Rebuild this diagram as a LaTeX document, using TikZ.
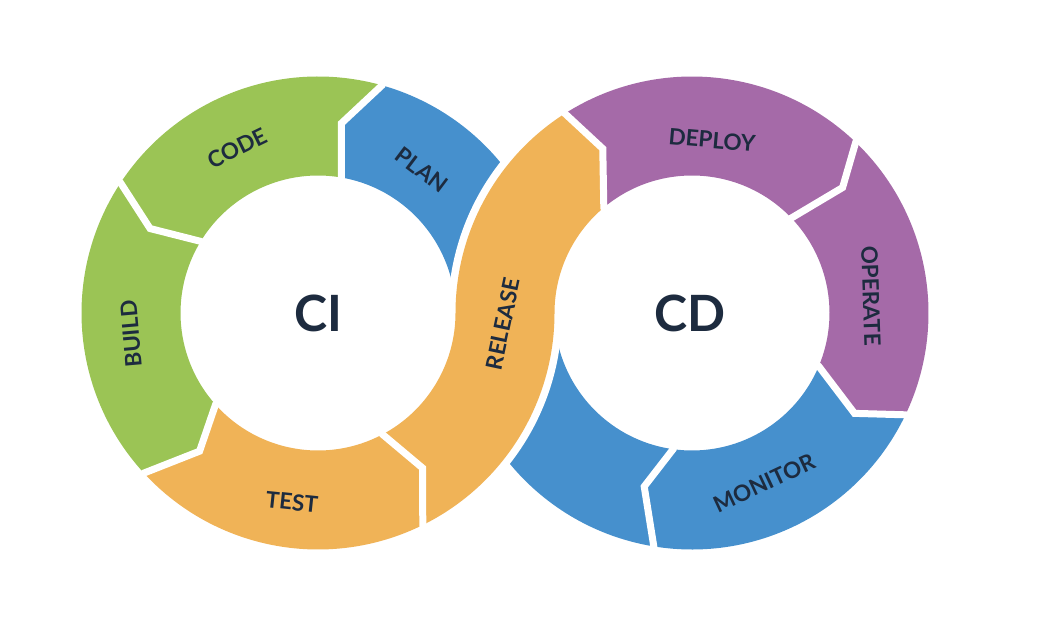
\documentclass[tikz,border=0pt]{standalone}
\usepackage{fontspec}
\setmainfont{Lato}
\definecolor{cgreen}{HTML}{9BC455}
\definecolor{cblue}{HTML}{4690CD}
\definecolor{corange}{HTML}{F0B357}
\definecolor{cpurple}{HTML}{A56AA8}
\definecolor{cnavy}{HTML}{1D2B3F}
\def\ri{137.5}
\def\ro{236.5}
% segment: center, colour, A-out, A-kink (a:r), A-in, B-out, B-kink (a:r), B-in
\newcommand{\ringseg}[8]{%
  \fill[#2] ([shift={(#1)}]#3:\ro) arc[start angle=#3, end angle=#6, radius=\ro]
    -- ([shift={(#1)}]#7) -- ([shift={(#1)}]#8:\ri)
    arc[start angle=#8, end angle=#5, radius=\ri]
    -- ([shift={(#1)}]#4) -- cycle;}
% boundary gap: center, out, kink (a:r), in
\newcommand{\ringgap}[4]{%
  \draw[gapline] ([shift={(#1)}]#2:\ro+4) -- ([shift={(#1)}]#2:\ro) -- ([shift={(#1)}]#3)
    -- ([shift={(#1)}]#4:\ri) -- ([shift={(#1)}]#4:\ri-4);}
\tikzset{
  gapline/.style={draw=white, line width=7, line join=miter},
  lbl/.style={text=cnavy, font=\fontsize{22.5}{22.5}\selectfont\bfseries, inner sep=0},
  big/.style={text=cnavy, font=\fontsize{50}{50}\selectfont\bfseries, inner sep=0}
}
\begin{document}
\begin{tikzpicture}[x=1pt, y=1pt]
\useasboundingbox (0,0) rectangle (1046,622);
\fill[white] (0,0) rectangle (1046,622);
\coordinate (L) at (318,309);
\coordinate (R) at (692,309);
% left ring
\ringseg{L}{cblue}{0}{0:187}{0}{74.3}{83:191}{80.2}
\ringseg{L}{cgreen}{74.3}{83:191}{80.2}{146.6}{153.3:188}{148.6}
\ringseg{L}{cgreen}{146.6}{153.3:188}{148.6}{222.6}{229.4:182}{221.8}
\ringseg{L}{corange}{222.6}{229.4:182}{221.8}{296.3}{304:187}{298}
% right ring
\ringseg{R}{cblue}{180}{180:187}{180}{260.7}{254.6:180}{262.1}
\ringseg{R}{cblue}{260.7}{254.6:180}{262.1}{334.5}{328.3:191}{337.2}
\ringseg{R}{cpurple}{-25.5}{328.3:191}{-22.8}{46.2}{39.8:196}{43.7}
\ringseg{R}{cpurple}{46.2}{39.8:196}{43.7}{122.5}{118.5:187}{129.9}
% cuts where the release band crosses
\draw[white, line width=15] ([shift={(R)}]185:\ro) arc[start angle=185, end angle=130, radius=\ro];
\draw[white, line width=15] ([shift={(L)}]5:\ro) arc[start angle=5, end angle=-50, radius=\ro];
% release band
\fill[corange] ([shift={(L)}]298:\ri) arc[start angle=298, end angle=360, radius=\ri]
  -- ([shift={(R)}]180:\ro) arc[start angle=180, end angle=122.5, radius=\ro]
  -- ([shift={(R)}]118.5:187) -- ([shift={(R)}]129.9:\ri)
  arc[start angle=129.9, end angle=180, radius=\ri]
  -- ([shift={(L)}]0:\ro) arc[start angle=0, end angle=-63.7, radius=\ro]
  -- ([shift={(L)}]304:187) -- cycle;
% gaps between segments
\ringgap{L}{74.3}{83:191}{80.2}
\ringgap{L}{146.6}{153.3:188}{148.6}
\ringgap{L}{222.6}{229.4:182}{221.8}
\ringgap{L}{296.3}{304:187}{298}
\ringgap{R}{122.5}{118.5:187}{129.9}
\ringgap{R}{46.2}{39.8:196}{43.7}
\ringgap{R}{334.5}{328.3:191}{337.2}
\ringgap{R}{260.7}{254.6:180}{262.1}
% labels
\node[lbl, rotate=26] (code) at (237,474) {CODE};
\node[lbl, rotate=-37] (plan) at (422,452) {PLAN};
\node[lbl, rotate=95] (build) at (131,288) {BUILD};
\node[lbl, rotate=-6] (test) at (292,120) {TEST};
\node[lbl, rotate=78] (release) at (503,298) {RELEASE};
\node[lbl, rotate=-5] (deploy) at (712,482) {DEPLOY};
\node[lbl, rotate=-88] (operate) at (871,326) {OPERATE};
\node[lbl, rotate=25] (monitor) at (764,139) {MONITOR};
\node[big] (ci) at (318,309) {CI};
\node[big] (cd) at (690,309) {CD};
\end{tikzpicture}
\end{document}
